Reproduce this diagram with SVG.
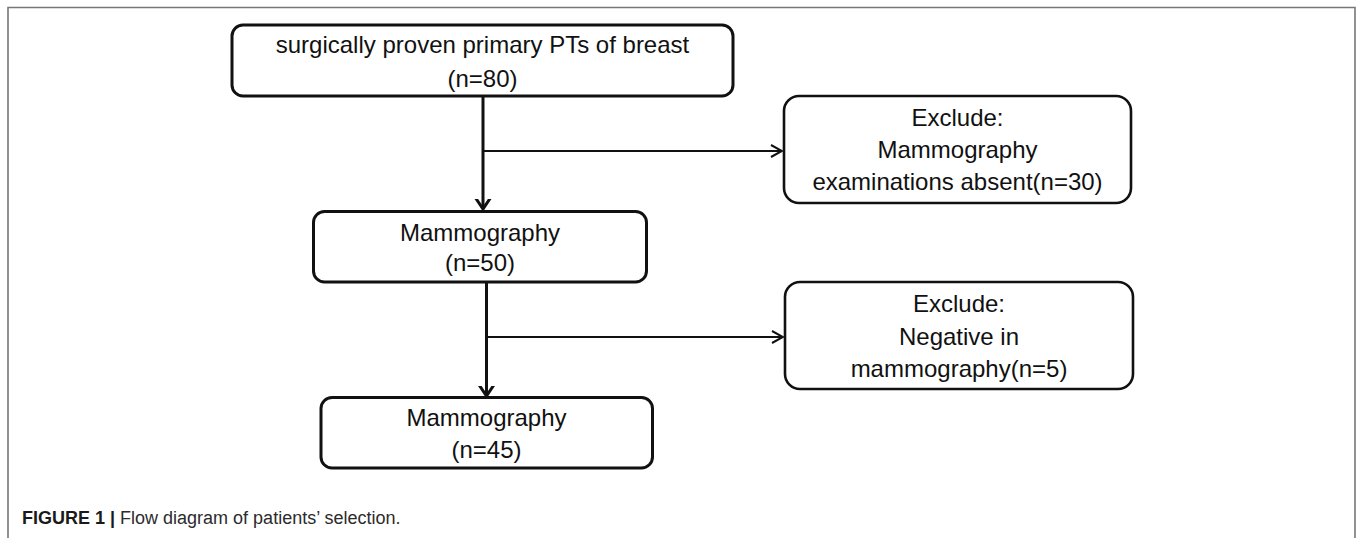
<svg xmlns="http://www.w3.org/2000/svg" width="1357" height="538" viewBox="0 0 1357 538">
<style>
.box{fill:#fff;stroke:#111;stroke-width:3}
.xbox{fill:#fff;stroke:#111;stroke-width:2.6}
.t{font-family:"Liberation Sans",Arial,sans-serif;font-size:24px;fill:#111;text-anchor:middle}
.main{fill:none;stroke:#111;stroke-width:3}
.side{fill:none;stroke:#111;stroke-width:2}
.cap{font-family:"Liberation Sans",Arial,sans-serif;font-size:18px;fill:#2b2b2b}
</style>
<defs>
<marker id="bigArrow" markerUnits="userSpaceOnUse" viewBox="-10 -9 12 18" refX="0" refY="0" markerWidth="12" markerHeight="18" orient="auto">
<path d="M-12,-8 L0,0 L-12,8" fill="none" stroke="#111" stroke-width="3"/>
</marker>
<marker id="smallArrow" markerUnits="userSpaceOnUse" viewBox="-13 -8 14 16" refX="0" refY="0" markerWidth="14" markerHeight="16" orient="auto">
<path d="M-11,-6 L0,0 L-11,6" fill="none" stroke="#111" stroke-width="2"/>
</marker>
</defs>
<rect x="0" y="0" width="1357" height="538" fill="#fff"/>
<path d="M8,545 V7.5 H1355 V545" fill="none" stroke="#777" stroke-width="1.6"/>

<g id="connectors">
<line class="main" x1="483" y1="97" x2="483" y2="209" marker-end="url(#bigArrow)"/>
<line class="side" x1="483" y1="151" x2="782" y2="151" marker-end="url(#smallArrow)"/>
<line class="main" x1="486.5" y1="283" x2="486.5" y2="396" marker-end="url(#bigArrow)"/>
<line class="side" x1="486.5" y1="337" x2="783" y2="337" marker-end="url(#smallArrow)"/>
</g>

<g id="node-start">
<rect class="box" x="232" y="25" width="501" height="71" rx="11"/>
<text class="t" x="482.5" y="53">surgically proven primary PTs of breast</text>
<text class="t" x="482.5" y="87">(n=80)</text>
</g>

<g id="node-exclude1">
<rect class="xbox" x="784" y="96" width="347" height="107" rx="15"/>
<text class="t" x="957.5" y="126">Exclude:</text>
<text class="t" x="957.5" y="158">Mammography</text>
<text class="t" x="957.5" y="190">examinations absent(n=30)</text>
</g>

<g id="node-mammo50">
<rect class="box" x="313.5" y="211.5" width="333" height="70.5" rx="11"/>
<text class="t" x="480" y="240.5">Mammography</text>
<text class="t" x="480" y="271">(n=50)</text>
</g>

<g id="node-exclude2">
<rect class="xbox" x="785" y="282" width="348" height="107" rx="15"/>
<text class="t" x="959" y="312">Exclude:</text>
<text class="t" x="959" y="345">Negative in</text>
<text class="t" x="959" y="377">mammography(n=5)</text>
</g>

<g id="node-mammo45">
<rect class="box" x="321" y="397.5" width="331.5" height="70.5" rx="11"/>
<text class="t" x="486.5" y="426">Mammography</text>
<text class="t" x="486.5" y="458">(n=45)</text>
</g>

<text class="cap" x="22" y="524"><tspan font-weight="bold" fill="#1a1a1a">FIGURE 1 | </tspan>Flow diagram of patients’ selection.</text>
</svg>
